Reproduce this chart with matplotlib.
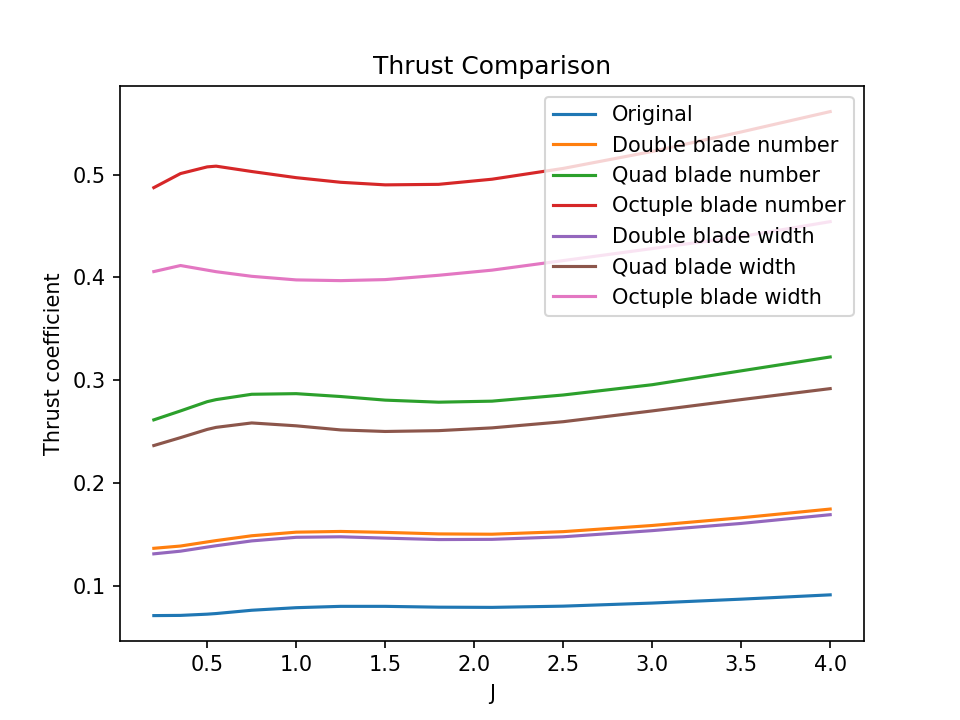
import matplotlib
matplotlib.use('Agg')
import matplotlib.pyplot as plt

J = [0.2, 0.35, 0.5, 0.55, 0.75, 1.0, 1.25, 1.5, 1.8, 2.1, 2.5, 3.0, 3.5, 4.0]

original = [0.0708, 0.0710, 0.0722, 0.0728, 0.0760, 0.0785, 0.0798, 0.0798, 0.0790, 0.0788, 0.0800, 0.0830, 0.0868, 0.0910]
double_number = [0.1363, 0.1385, 0.1425, 0.1438, 0.1485, 0.1520, 0.1527, 0.1518, 0.1503, 0.1500, 0.1525, 0.1585, 0.1660, 0.1745]
quad_number = [0.2613, 0.2700, 0.2790, 0.2810, 0.2862, 0.2868, 0.2840, 0.2805, 0.2785, 0.2795, 0.2855, 0.2955, 0.3090, 0.3225]
octuple_number = [0.4873, 0.5010, 0.5075, 0.5082, 0.5030, 0.4970, 0.4925, 0.4900, 0.4905, 0.4955, 0.5060, 0.5225, 0.5415, 0.5613]
double_width = [0.1309, 0.1335, 0.1375, 0.1388, 0.1435, 0.1470, 0.1475, 0.1462, 0.1448, 0.1450, 0.1475, 0.1535, 0.1605, 0.1690]
quad_width = [0.2363, 0.2440, 0.2520, 0.2540, 0.2583, 0.2555, 0.2515, 0.2500, 0.2508, 0.2535, 0.2595, 0.2700, 0.2810, 0.2917]
octuple_width = [0.4056, 0.4115, 0.4070, 0.4055, 0.4010, 0.3975, 0.3968, 0.3978, 0.4020, 0.4070, 0.4163, 0.4280, 0.4397, 0.4542]

series = [
    ('Original', original),
    ('Double blade number', double_number),
    ('Quad blade number', quad_number),
    ('Octuple blade number', octuple_number),
    ('Double blade width', double_width),
    ('Quad blade width', quad_width),
    ('Octuple blade width', octuple_width),
]

fig, ax = plt.subplots(figsize=(6.4, 4.8), dpi=150)
for name, vals in series:
    ax.plot(J, vals, label=name)
ax.set_title('Thrust Comparison')
ax.set_xlabel('J')
ax.set_ylabel('Thrust coefficient')
ax.legend(loc='upper right')
fig.savefig('out.png')
